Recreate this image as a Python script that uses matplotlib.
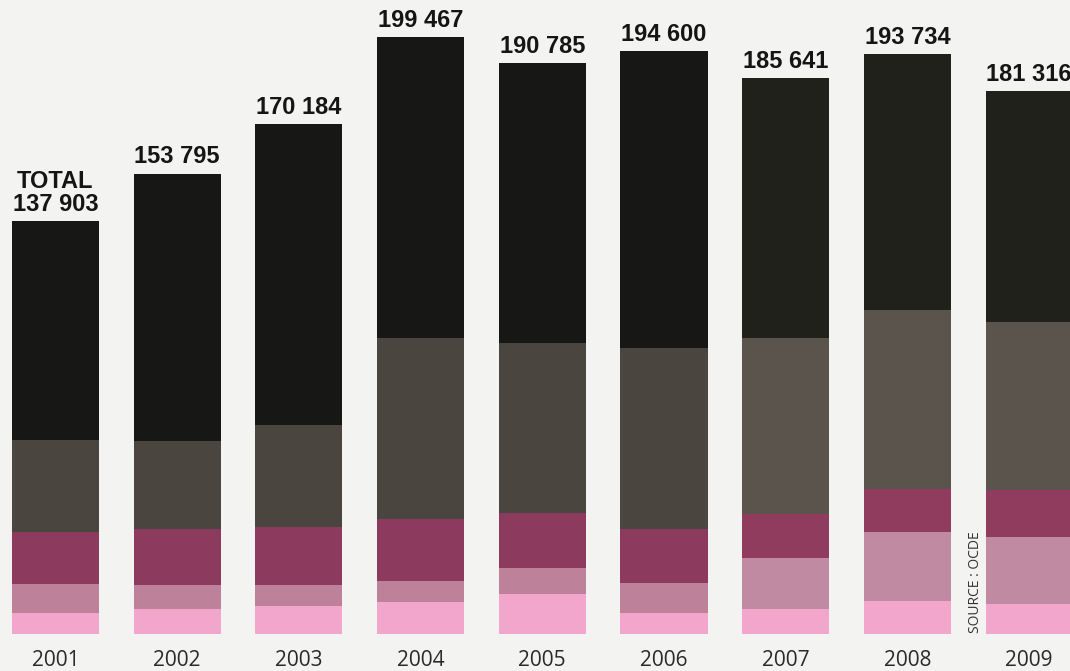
import matplotlib
matplotlib.use("Agg")
import matplotlib.pyplot as plt
import numpy as np

years = ["2001", "2002", "2003", "2004", "2005", "2006", "2007", "2008", "2009"]
totals = [137903, 153795, 170184, 199467, 190785, 194600, 185641, 193734, 181316]

# stacked segments, bottom to top
seg_pink = [7000, 8400, 9400, 10700, 13400, 7000, 8400, 11000, 10000]
seg_mauve = [9700, 8000, 7000, 7000, 8700, 10000, 17000, 23000, 22400]
seg_magenta = [17400, 18700, 19400, 20700, 18400, 18000, 14700, 14400, 15700]
seg_gray = [30700, 29400, 34100, 60500, 56800, 60500, 58800, 59800, 56100]
seg_black = [73100, 89300, 100300, 100600, 93500, 99100, 86700, 85500, 77100]

total_labels = ["TOTAL\n137 903", "153 795", "170 184", "199 467", "190 785",
                "194 600", "185 641", "193 734", "181 316"]

# print tone drifts a little on the right-hand bars
early = ["#f2a6cc", "#bd8199", "#8c3a5d", "#4b4540", "#171715"]
late = ["#f2a6cc", "#c08aa2", "#8f3c5e", "#5a544d", "#20211b"]
segments = [seg_pink, seg_mauve, seg_magenta, seg_gray, seg_black]

fig = plt.figure(figsize=(10.7, 6.71), dpi=100)
fig.patch.set_facecolor("#f3f3f1")
ax = fig.add_axes([0, 0, 1, 1])
ax.set_facecolor("#f3f3f1")

x = np.arange(len(years))
bottom = np.zeros(len(years))
for k, vals in enumerate(segments):
    cols = [early[k] if i < 6 else late[k] for i in range(len(years))]
    ax.bar(x, vals, bottom=bottom, width=0.715, color=cols, linewidth=0)
    bottom += np.array(vals)

lab_font = ["Liberation Sans", "DejaVu Sans"]
for i, t in enumerate(totals):
    ax.text(x[i], t + 1700, total_labels[i], ha="center", va="bottom",
            fontsize=17, fontweight="bold", family=lab_font, color="#151515",
            linespacing=1.0)
    ax.text(x[i], -8700, years[i], ha="center", va="center", fontsize=15,
            family=["Open Sans", "DejaVu Sans"], color="#2a2a2a")

ax.text(7.556, 200, "SOURCE : OCDE", rotation=90, ha="center", va="bottom",
        fontsize=10, family=["Open Sans", "DejaVu Sans"], color="#333333")

ax.set_xlim(-0.456, 8.336)
ax.set_ylim(-12358, 211756)
ax.axis("off")

fig.savefig("out.png", dpi=100, facecolor=fig.get_facecolor())
